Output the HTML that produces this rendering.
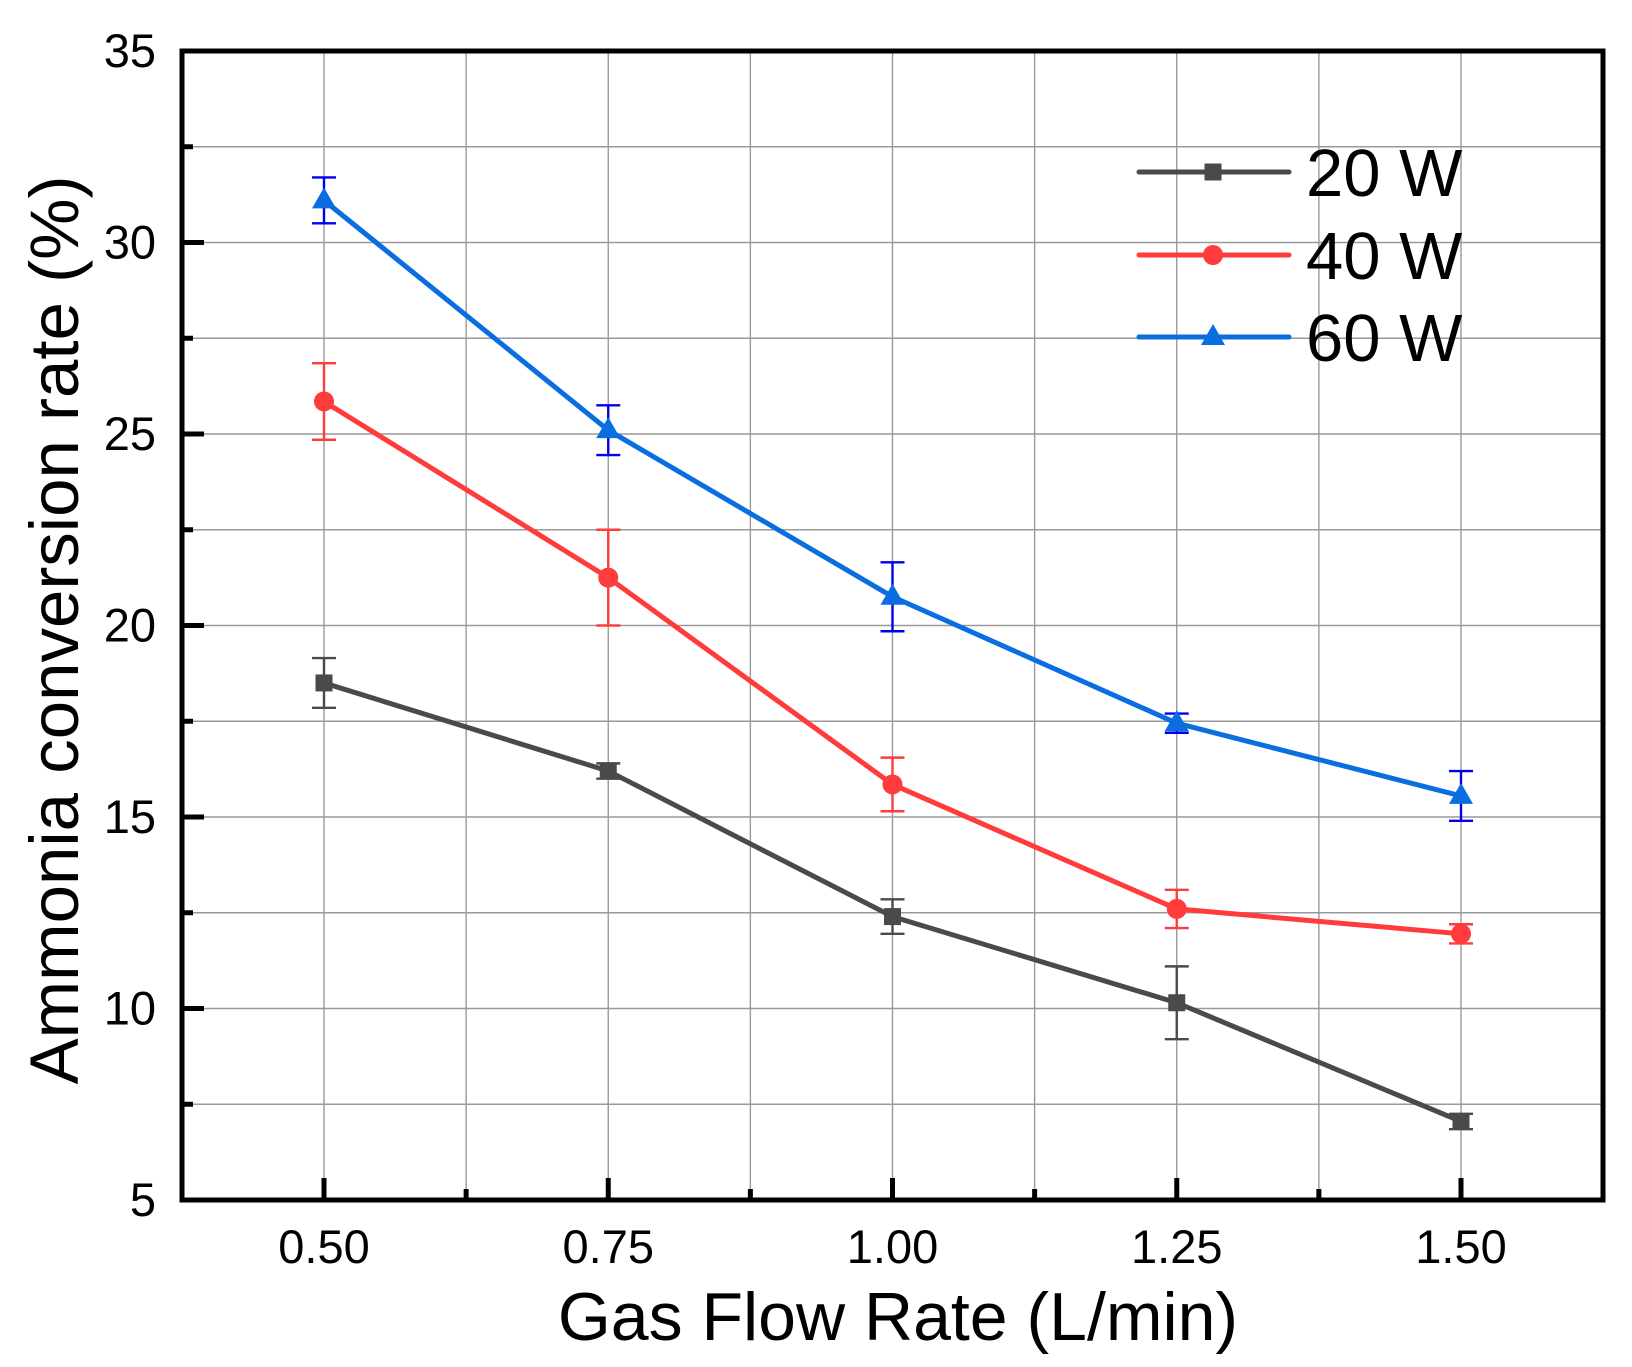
<!DOCTYPE html>
<html><head><meta charset="utf-8"><style>
html,body{margin:0;padding:0;background:#fff;}
svg{display:block;}
text{font-family:"Liberation Sans",sans-serif;fill:#000;}
</style></head><body>
<svg id="s" width="1632" height="1367" viewBox="0 0 1632 1367" xmlns="http://www.w3.org/2000/svg"></svg>
<script>
const s=document.getElementById('s');
const X0=182,X1=1603,Y0=51,Y1=1200;
const xp=v=>324+(v-0.5)/0.25*284.25;
const yp=v=>Y1-(v-5)*(Y1-Y0)/30;
let h='';
for(let v=0.375;v<=1.63;v+=0.125){if(v<0.4)continue;const x=xp(v);h+=`<line x1="${x}" y1="${Y0}" x2="${x}" y2="${Y1}" stroke="#999" stroke-width="1.4"/>`;}
for(let v=7.5;v<35;v+=2.5){const y=yp(v);h+=`<line x1="${X0}" y1="${y}" x2="${X1}" y2="${y}" stroke="#999" stroke-width="1.4"/>`;}
for(let i=0;i<9;i++){const v=0.5+i*0.125;const x=xp(v);const L=i%2?11:22;h+=`<line x1="${x}" y1="${Y1}" x2="${x}" y2="${Y1-L}" stroke="#000" stroke-width="5"/>`;}
for(let v=7.5;v<35;v+=2.5){const y=yp(v);const L=(v%5)?11:22;h+=`<line x1="${X0}" y1="${y}" x2="${X0+L}" y2="${y}" stroke="#000" stroke-width="5"/>`;}
const xs=[0.5,0.75,1,1.25,1.5];
const S=[
 {c:'#4a4a4a',e:'#4a4a4a',m:'sq',d:[[18.5,.65],[16.2,.2],[12.4,.45],[10.15,.95],[7.05,.2]]},
 {c:'#ff3b3b',e:'#ff3b3b',m:'ci',d:[[25.85,1.0],[21.25,1.25],[15.85,.7],[12.6,.5],[11.95,.25]]},
 {c:'#0a6ee0',e:'#0000ee',m:'tr',d:[[31.1,.6],[25.1,.65],[20.75,.9],[17.45,.25],[15.55,.65]]}];
function mk(m,x,y,c){
 if(m=='sq')return `<rect x="${x-8.5}" y="${y-8.5}" width="17" height="17" fill="${c}"/>`;
 if(m=='ci')return `<circle cx="${x}" cy="${y}" r="10" fill="${c}"/>`;
 return `<polygon points="${x},${y-13} ${x-12},${y+8} ${x+12},${y+8}" fill="${c}"/>`;
}
for(const se of S){
 const pts=se.d.map((d,i)=>`${xp(xs[i])},${yp(d[0])}`).join(' ');
 se.d.forEach((d,i)=>{const x=xp(xs[i]),a=yp(d[0]+d[1]),b=yp(d[0]-d[1]);
  h+=`<g stroke="${se.e}" stroke-width="2.4"><line x1="${x}" y1="${a}" x2="${x}" y2="${b}"/><line x1="${x-12}" y1="${a}" x2="${x+12}" y2="${a}"/><line x1="${x-12}" y1="${b}" x2="${x+12}" y2="${b}"/></g>`;});
 h+=`<polyline points="${pts}" fill="none" stroke="${se.c}" stroke-width="5" stroke-linejoin="round"/>`;
 se.d.forEach((d,i)=>{h+=mk(se.m,xp(xs[i]),yp(d[0]),se.c);});
}
h+=`<rect x="${X0}" y="${Y0}" width="${X1-X0}" height="${Y1-Y0}" fill="none" stroke="#000" stroke-width="5"/>`;
['0.50','0.75','1.00','1.25','1.50'].forEach((t,i)=>{h+=`<text x="${xp(xs[i])}" y="1263" font-size="47" text-anchor="middle">${t}</text>`;});
for(let v=5;v<=35;v+=5){h+=`<text x="156" y="${yp(v)+16}" font-size="47" text-anchor="end">${v}</text>`;}
h+=`<text x="898" y="1340" font-size="68" text-anchor="middle">Gas Flow Rate (L/min)</text>`;
h+=`<text transform="translate(78,630) rotate(-90)" font-size="69" text-anchor="middle">Ammonia conversion rate (%)</text>`;
const L=[[172,'20 W'],[255,'40 W'],[337,'60 W']];
L.forEach((l,i)=>{const se=S[i];h+=`<line x1="1139" y1="${l[0]}" x2="1289" y2="${l[0]}" stroke="${se.c}" stroke-width="5" stroke-linecap="round"/>`+mk(se.m,1213,l[0],se.c)+`<text x="1306" y="${l[0]+24}" font-size="67">${l[1]}</text>`;});
s.innerHTML=h;
</script>
</body></html>
